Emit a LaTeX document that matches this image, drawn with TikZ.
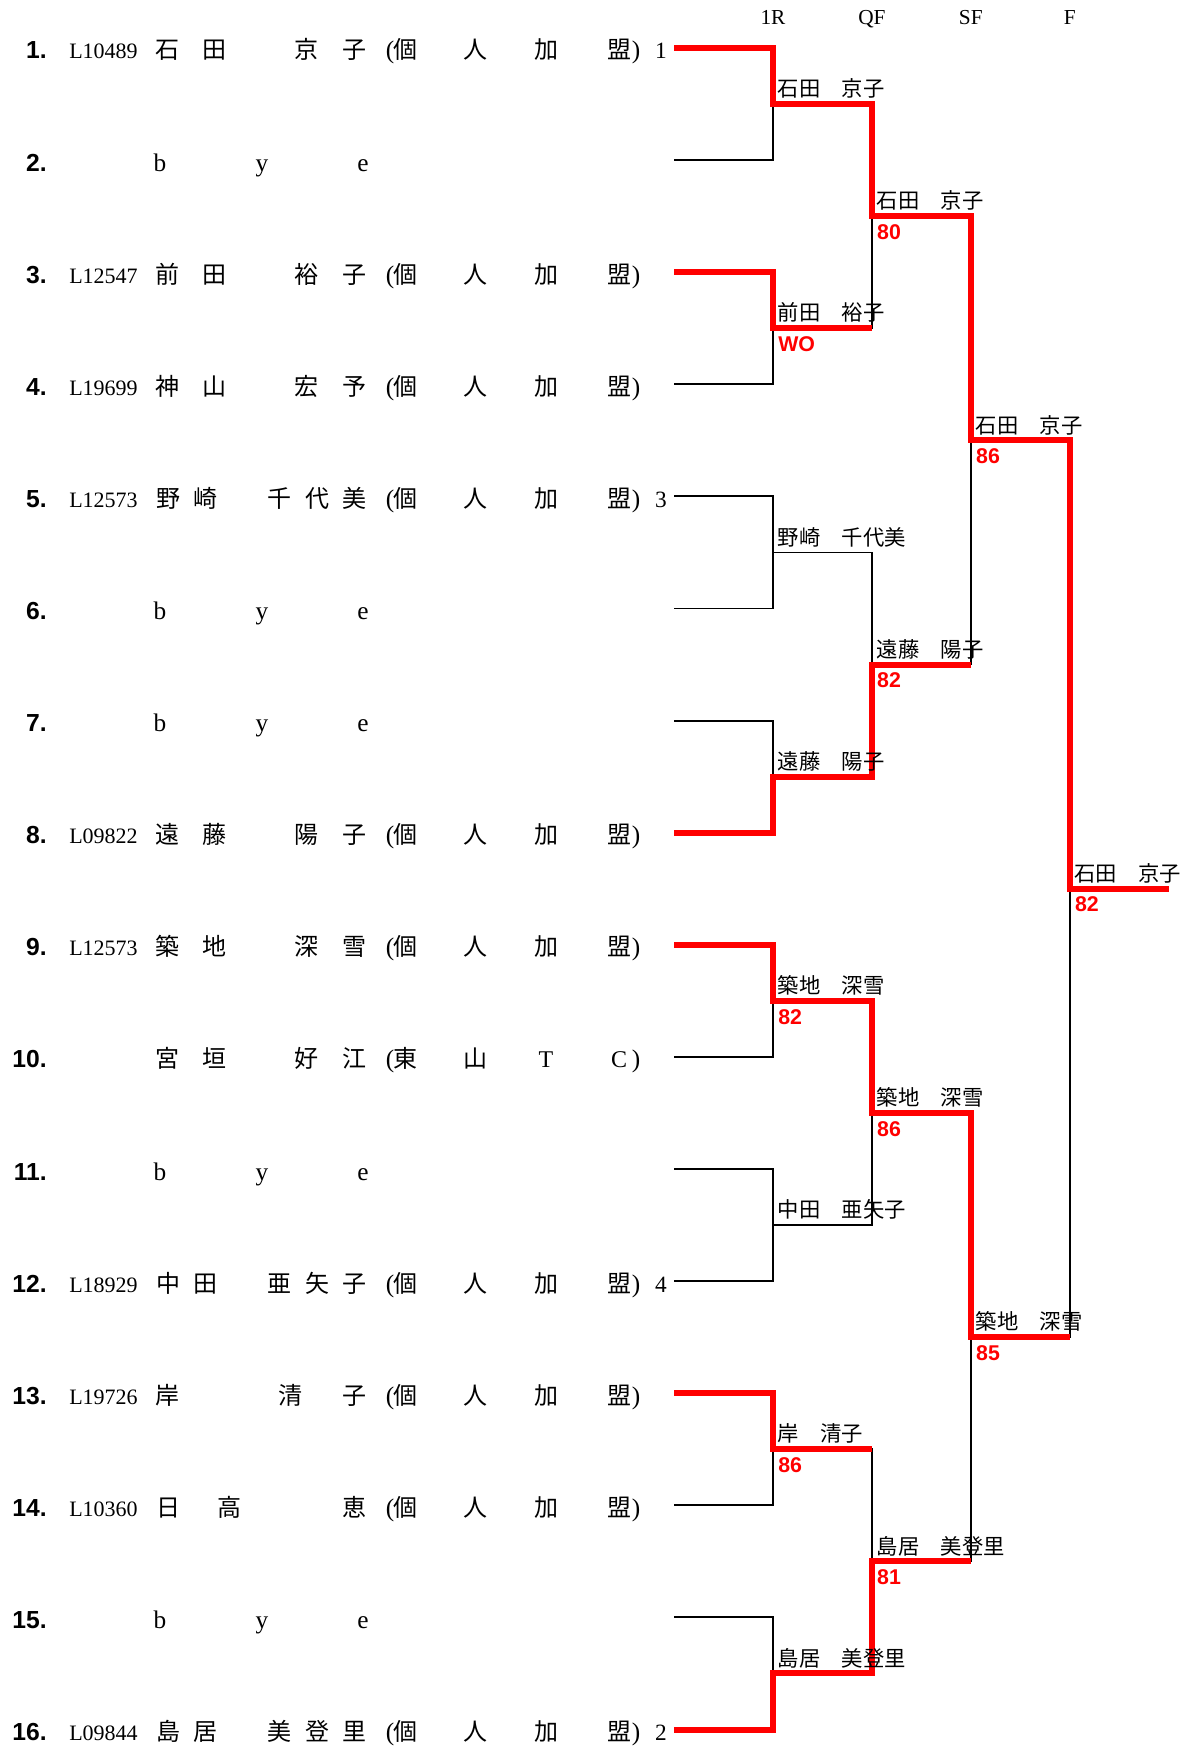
\documentclass[tikz,border=0pt]{standalone}
\usepackage{fontspec}
\setmainfont{Liberation Serif}
\newfontfamily\jpfont{Noto Sans CJK JP}
\newfontfamily\sansfont{Liberation Sans}
\definecolor{winred}{RGB}{255,0,0}
\tikzset{
  num/.style={font=\sansfont\bfseries\fontsize{18.5pt}{20pt}\selectfont, anchor=base east, inner sep=0pt},
  idtxt/.style={font=\fontsize{16.5pt}{18pt}\selectfont, anchor=base west, inner sep=0pt},
  roman/.style={font=\fontsize{17.5pt}{19pt}\selectfont, anchor=base, inner sep=0pt},
  byetxt/.style={font=\fontsize{19pt}{21pt}\selectfont, anchor=base, inner sep=0pt},
  jp/.style={font=\jpfont\fontsize{18pt}{20pt}\selectfont, anchor=base, inner sep=0pt},
  paren/.style={font=\fontsize{19pt}{21pt}\selectfont, anchor=base, inner sep=0pt},
  roundhead/.style={font=\fontsize{16pt}{18pt}\selectfont, anchor=base, inner sep=0pt},
  drawline/.style={line width=1.4pt},
  winline/.style={line width=4.5pt, winred},
  winner/.style={font=\jpfont\fontsize{16pt}{18pt}\selectfont, anchor=base west, inner sep=0pt, xshift=3.5pt, yshift=5.5pt},
  score/.style={font=\sansfont\bfseries\fontsize{16pt}{18pt}\selectfont, anchor=north west, inner sep=0pt, xshift=3.8pt, yshift=-6pt, text=winred}
}
\newcommand\kojin{個/405,人/475,加/546,盟/619}
\newcommand\higashi{東/405,山/475,{\rmfamily T}/546,{\rmfamily C}/619}
\newcommand\entry[3]{%
  \pgfmathsetmacro\yb{59+112.1*(#1-1)}
  \foreach \c/\x [count=\j] in {#2} \node[jp] (nm-#1-\j) at (\x,\yb) {\c};
  \node[paren] (lp-#1) at (390,\yb) {(};
  \foreach \c/\x [count=\j] in #3 \node[jp] (cl-#1-\j) at (\x,\yb) {\c};
  \node[paren] (rp-#1) at (636,\yb) {)};
}
\begin{document}
\begin{tikzpicture}[x=0.75pt,y=-0.75pt]
\useasboundingbox (0,0) rectangle (1191,1747);
\foreach \i in {1,...,16} \coordinate (s-\i) at (674,{48+112.1*(\i-1)});
\foreach \L/\n in {1/8,2/4,3/2,4/1} \foreach \k in {1,...,\n} \coordinate (m-\L-\k) at ({773+98.9*(\L-1)},{48+112.1*((2^\L)*(\k-1)+(2^\L-1)/2)});
\coordinate (champ) at (1169,{48+112.1*7.5});
\foreach \L/\t in {1/1R,2/QF,3/SF,4/F} \node[roundhead] (hd-\L) at ({773+98.9*(\L-1)},25) {\t};
\foreach \k in {1,...,8} {\pgfmathtruncatemacro\a{2*\k-1}\pgfmathtruncatemacro\b{2*\k} \draw[drawline] (s-\a) -| (m-1-\k) |- (s-\b);}
\foreach \L/\n in {2/4,3/2,4/1} \foreach \k in {1,...,\n} {\pgfmathtruncatemacro\p{\L-1}\pgfmathtruncatemacro\a{2*\k-1}\pgfmathtruncatemacro\b{2*\k} \draw[drawline] (m-\p-\a) -| (m-\L-\k) |- (m-\p-\b);}
\draw[drawline] (m-4-1) -- (champ);
\draw[winline] (s-1) -| (m-1-1) -| (m-2-1) -| (m-3-1) -| (m-4-1) -- (champ);
\draw[winline] (s-3) -| (m-1-2) -- (m-1-2 -| m-2-1);
\draw[winline] (s-8) -| (m-1-4) -| (m-2-2) -- (m-2-2 -| m-3-1);
\draw[winline] (s-9) -| (m-1-5) -| (m-2-3) -| (m-3-2) -- (m-3-2 -| m-4-1);
\draw[winline] (s-13) -| (m-1-7) -- (m-1-7 -| m-2-4);
\draw[winline] (s-16) -| (m-1-8) -| (m-2-4) -- (m-2-4 -| m-3-2);
\foreach \m/\nm in {1-1/石田　京子,1-2/前田　裕子,1-3/野崎　千代美,1-4/遠藤　陽子,1-5/築地　深雪,1-6/中田　亜矢子,1-7/岸　清子,1-8/島居　美登里,2-1/石田　京子,2-2/遠藤　陽子,2-3/築地　深雪,2-4/島居　美登里,3-1/石田　京子,3-2/築地　深雪,4-1/石田　京子} \node[winner] (w-\m) at (m-\m) {\nm};
\foreach \m/\sc in {1-2/WO,1-5/82,1-7/86,2-1/80,2-2/82,2-3/86,2-4/81,3-1/86,3-2/85,4-1/82} \node[score] (sc-\m) at (m-\m) {\sc};
\foreach \i in {1,...,16} \node[num] (no-\i) at (47,{59+112.1*(\i-1)}) {\i.};
\foreach \i/\t in {1/L10489,3/L12547,4/L19699,5/L12573,8/L09822,9/L12573,12/L18929,13/L19726,14/L10360,16/L09844} \node[idtxt] (id-\i) at (69,{59+112.1*(\i-1)}) {\t};
\foreach \i in {2,6,7,11,15} \foreach \c/\x in {b/160,y/262,e/363} \node[byetxt] (bye-\i-\c) at (\x,{59+112.1*(\i-1)}) {\c};
\entry{1}{石/167,田/214,京/306,子/354}{\kojin}
\entry{3}{前/167,田/214,裕/306,子/354}{\kojin}
\entry{4}{神/167,山/214,宏/306,予/354}{\kojin}
\entry{5}{野/168,崎/205,千/279,代/317,美/354}{\kojin}
\entry{8}{遠/167,藤/214,陽/306,子/354}{\kojin}
\entry{9}{築/167,地/214,深/306,雪/354}{\kojin}
\entry{10}{宮/167,垣/214,好/306,江/354}{\higashi}
\entry{12}{中/168,田/205,亜/279,矢/317,子/354}{\kojin}
\entry{13}{岸/167,清/290,子/354}{\kojin}
\entry{14}{日/168,高/229,恵/354}{\kojin}
\entry{16}{島/168,居/205,美/279,登/317,里/354}{\kojin}
\foreach \i/\s in {1/1,5/3,12/4,16/2} \node[roman] (seed-\i) at (661,{59+112.1*(\i-1)}) {\s};
\end{tikzpicture}
\end{document}
